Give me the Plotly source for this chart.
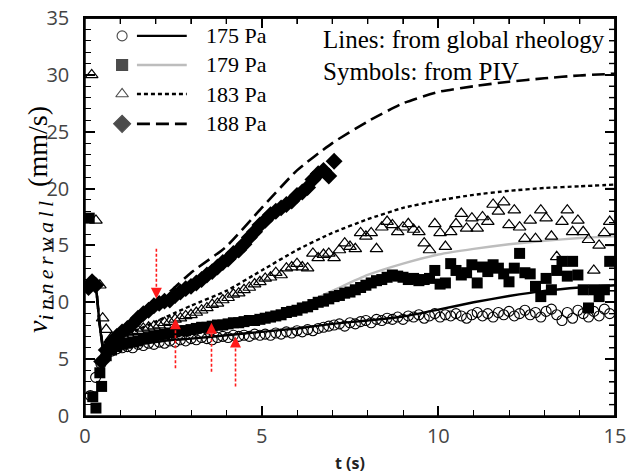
import numpy as np
import plotly.graph_objects as go

# ---------------- data ----------------
# model curves (global rheology)
T_LINE = [0, 0.1, 0.22, 0.3, 0.4, 0.5, 0.57, 0.7, 1, 1.5, 2, 2.5, 3, 4, 5, 6, 7, 8, 9, 10, 11, 12, 13, 14, 15]
L175 = [11.0, 11.8, 12.3, 11.6, 8.5, 6.0, 5.0, 5.7, 6.0, 6.3, 6.5, 6.7, 6.8, 7.1, 7.4, 7.7, 8.1, 8.4, 8.75, 9.35, 10.0, 10.55, 11.0, 11.3, 11.5]
L179 = [11.0, 11.8, 12.3, 11.6, 8.5, 6.0, 5.0, 5.4, 5.9, 6.4, 6.9, 7.2, 7.4, 7.9, 8.7, 9.6, 11.0, 12.4, 13.4, 14.2, 14.7, 15.1, 15.4, 15.65, 15.8]
L183 = [11.0, 11.8, 12.3, 11.6, 8.5, 6.2, 5.2, 6.0, 7.0, 7.6, 8.3, 9.0, 9.7, 11.0, 12.8, 14.6, 16.1, 17.3, 18.3, 18.95, 19.45, 19.8, 20.05, 20.2, 20.35]
L188 = [11.0, 11.8, 12.3, 11.6, 8.5, 6.2, 5.3, 6.2, 7.3, 8.6, 9.9, 11.2, 12.6, 14.9, 18.3, 21.6, 24.0, 25.9, 27.5, 28.5, 29.0, 29.4, 29.7, 29.95, 30.1]

# PIV symbols: a few irregular early frames, then frames every 0.15 s
DT = 0.15
C175_T0 = 0.15
C175 = [1.8, 3.4, 4.6, 5.4, 5.7, 5.9, 6.0, 6.1, 6.0, 6.3, 6.2, 6.4, 6.3, 6.5, 6.4, 6.6, 6.5, 6.7, 6.6, 6.8,
        6.7, 6.9, 6.8, 6.7, 6.9, 7.0, 6.9, 7.1, 7.0, 7.1, 7.0, 7.2, 7.1, 7.2, 7.1, 7.3, 7.2, 7.4, 7.3, 7.5,
        7.4, 7.6, 7.5, 7.7, 7.8, 7.9, 8.0, 8.1, 7.9, 8.2, 8.1, 8.3, 8.4, 8.2, 8.5, 8.4, 8.6, 8.5, 8.7, 8.5,
        8.8, 8.7, 8.9, 8.6, 8.8, 9.0, 8.7, 8.9, 8.8, 9.0, 8.8, 8.6, 8.9, 9.1, 8.8, 9.0, 8.7, 9.1, 8.9, 9.2,
        8.8, 9.0, 9.3, 8.9, 9.1, 8.7, 9.2, 9.4, 8.9, 8.4, 9.1, 8.6, 9.3, 9.0, 8.7, 9.2, 8.8, 9.4, 9.0]

S179_TE = [0.12, 0.22, 0.31, 0.42, 0.47]
S179_VE = [17.4, 1.7, 0.7, 3.8, 2.6]
S179_T0 = 0.6
S179 = [5.3, 5.8, 6.1, 6.3, 6.4, 6.5, 6.6, 6.8, 6.9, 7.0, 7.1, 7.2, 7.3, 7.4, 7.5, 7.5, 7.6, 7.7, 7.8, 7.8,
        7.9, 8.0, 8.0, 8.1, 8.2, 8.2, 8.3, 8.4, 8.4, 8.5, 8.6, 8.7, 8.8, 8.9, 9.1, 9.2, 9.3, 9.5, 9.6, 9.8,
        10.0, 10.1, 10.3, 10.5, 10.6, 10.8, 10.9, 11.1, 11.3, 11.5, 11.7, 11.9, 12.0, 12.2, 12.4, 12.3, 12.2, 12.0, 12.1, 11.9,
        12.0, 12.1, 12.8, 11.6, 11.7, 13.4, 12.8, 12.4, 12.6, 13.3, 11.7, 13.1, 12.7, 13.3, 13.0, 12.5, 11.8, 13.0, 14.3, 12.6,
        12.5, 11.4, 10.5, 12.1, 11.1, 12.8, 13.6, 12.3, 13.6, 12.4, 11.1, 9.5, 11.1, 10.5, 11.1, 13.6]

T183_TE = [0.19, 0.31, 0.42, 0.50, 0.60]
T183_VE = [30.0, 17.2, 11.5, 8.6, 7.6]
T183_T0 = 0.75
T183 = [6.9, 7.0, 7.2, 7.3, 7.4, 7.5, 7.7, 7.8, 7.9, 8.0, 8.2, 8.3, 8.5, 8.6, 8.8, 8.9, 9.1, 9.3, 9.5, 9.8,
        9.9, 10.2, 10.4, 10.7, 10.8, 11.1, 11.3, 11.6, 11.8, 12.1, 12.2, 12.6, 12.4, 13.0, 13.1, 13.4, 13.1, 13.0, 14.3, 13.9,
        14.2, 14.3, 13.9, 14.6, 15.2, 14.9, 14.7, 16.1, 15.8, 16.1, 14.7, 16.6, 17.1, 16.8, 16.2, 16.6, 16.9, 16.4, 16.2, 15.2,
        14.6, 16.9, 16.1, 14.9, 16.2, 16.9, 17.8, 16.5, 17.4, 16.5, 17.5, 17.1, 18.6, 18.0, 18.8, 16.8, 18.1, 16.6, 15.6, 17.2,
        15.6, 18.1, 17.4, 15.8, 14.0, 17.1, 18.1, 16.2, 17.2, 16.2, 15.5, 12.8, 15.0, 16.1, 17.1]

D188_TE = [0.1, 0.2, 0.3, 0.47]
D188_VE = [11.3, 11.8, 11.5, 4.8]
D188_T0 = 0.6
D188 = [5.8, 6.5, 7.0, 7.4, 7.7, 8.1, 8.6, 9.0, 9.3, 9.7, 9.9, 10.1, 10.2, 10.6, 10.9, 11.2, 11.4, 11.7, 12.0, 12.4,
        12.7, 13.1, 13.5, 13.8, 14.3, 14.6, 15.1, 15.7, 16.2, 16.8, 17.2, 17.7, 18.0, 18.3, 18.6, 18.9, 19.4, 19.7, 20.1, 20.8,
        21.3, 21.6, 21.1, 22.4]

LABELS = ["175 Pa", "179 Pa", "183 Pa", "188 Pa"]

# red dashed arrows: (t, start value, tip value)
ARROWS = [(2.02, 14.7, 10.3), (2.56, 4.2, 8.6), (3.58, 3.9, 8.2), (4.26, 2.6, 7.0)]

NOTE1 = "Lines: from global rheology"
NOTE2 = "Symbols: from PIV"

X_RANGE = [0, 15]
Y_RANGE = [0, 35]


def grid(t0, vals):
    return [round(t0 + DT * i, 3) for i in range(len(vals))]


# ---------------- geometry ----------------
W, H = 630, 474
M = dict(l=85, r=15, t=18, b=58)
PX_X = (W - M["l"] - M["r"]) / (X_RANGE[1] - X_RANGE[0])   # px per second
PX_Y = (H - M["t"] - M["b"]) / (Y_RANGE[1] - Y_RANGE[0])   # px per mm/s
MAJ_LEN, MIN_LEN = 10, 6

# ---------------- styles ----------------
LINE_STYLES = [
    dict(color="black", width=2.4, dash="solid"),
    dict(color="#bdbdbd", width=2.4, dash="solid"),
    dict(color="black", width=2.4, dash="4px,3px"),
    dict(color="black", width=2.6, dash="13px,6px"),
]
MARKERS = [
    dict(symbol="circle-open", size=10, color="black", line=dict(width=1.1, color="black")),
    dict(symbol="square", size=11, color="black"),
    dict(symbol="triangle-up-open", size=11, color="black", line=dict(width=1.2, color="black")),
    dict(symbol="diamond", size=13, color="black"),
]

fig = go.Figure()

line_vals = [L179, L183, L188, L175]
line_idx = [1, 2, 3, 0]
for vals, k in zip(line_vals, line_idx):
    fig.add_trace(go.Scatter(x=T_LINE, y=vals, mode="lines", line=dict(**LINE_STYLES[k], shape="spline", smoothing=0.5),
                             hoverinfo="skip", showlegend=False))

sym_series = [
    ([], [], C175_T0, C175),
    (S179_TE, S179_VE, S179_T0, S179),
    (T183_TE, T183_VE, T183_T0, T183),
    (D188_TE, D188_VE, D188_T0, D188),
]
for k, (te, ve, t0, vals) in enumerate(sym_series):
    fig.add_trace(go.Scatter(x=list(te) + grid(t0, vals), y=list(ve) + list(vals), mode="markers",
                             marker=MARKERS[k], showlegend=False, hoverinfo="skip"))

# red arrow heads (tips of the dashed arrows)
RED = "#ff1a1a"
fig.add_trace(go.Scatter(
    x=[a[0] for a in ARROWS],
    y=[a[2] for a in ARROWS],
    mode="markers",
    marker=dict(symbol=["arrow-up" if a[2] > a[1] else "arrow-down" for a in ARROWS],
                size=11, color=RED, line=dict(width=0)),
    showlegend=False, hoverinfo="skip"))

# top / right frame with mirrored inside ticks (drawn from the axis tick grid)
fx, fy = [X_RANGE[0], X_RANGE[1], X_RANGE[1]], [Y_RANGE[1], Y_RANGE[1], Y_RANGE[0]]
for t in range(X_RANGE[0] + 1, X_RANGE[1]):
    ln = (MAJ_LEN if t % 5 == 0 else MIN_LEN) / PX_Y
    fx += [None, t, t]
    fy += [None, Y_RANGE[1], Y_RANGE[1] - ln]
for v in range(Y_RANGE[0] + 1, Y_RANGE[1]):
    ln = (MAJ_LEN if v % 5 == 0 else MIN_LEN) / PX_X
    fx += [None, X_RANGE[1], X_RANGE[1] - ln]
    fy += [None, v, v]
fig.add_trace(go.Scatter(x=fx, y=fy, mode="lines", line=dict(color="black", width=1.4), cliponaxis=False,
                         connectgaps=False, showlegend=False, hoverinfo="skip"))

# ---------------- manual legend (positions as plot-area fractions) ----------------
LEG_ROWS = [0.955, 0.882, 0.809, 0.734]
LEG_MARK_X = 0.070
LEG_LINE_X = (0.098, 0.192)
LEG_TEXT_X = 0.224
SERIF = "Liberation Serif"
fig.add_trace(go.Scatter(x=[LEG_MARK_X * X_RANGE[1]] * 4, y=[ry * Y_RANGE[1] for ry in LEG_ROWS], mode="markers",
                         marker=dict(symbol=[m["symbol"] for m in MARKERS], size=[m["size"] for m in MARKERS],
                                     color="black", line=dict(width=1.15, color="black")),
                         showlegend=False, hoverinfo="skip"))
for k, ry in enumerate(LEG_ROWS):
    st = LINE_STYLES[k]
    fig.add_shape(type="line", xref="x domain", yref="y domain", x0=LEG_LINE_X[0], x1=LEG_LINE_X[1], y0=ry, y1=ry,
                  line=dict(color=st["color"], width=st["width"], dash=st["dash"]))
    fig.add_annotation(xref="x domain", yref="y domain", x=LEG_TEXT_X, y=ry, text=LABELS[k], showarrow=False,
                       xanchor="left", yanchor="middle", font=dict(family=SERIF, size=22, color="black"))

fig.add_annotation(xref="x domain", yref="y domain", x=0.445, y=0.947, text=NOTE1, showarrow=False,
                   xanchor="left", yanchor="middle", font=dict(family=SERIF, size=25, color="black"))
fig.add_annotation(xref="x domain", yref="y domain", x=0.445, y=0.866, text=NOTE2, showarrow=False,
                   xanchor="left", yanchor="middle", font=dict(family=SERIF, size=25, color="black"))

# plot frame (paper refs, not clipped)
fig.add_shape(type="rect", xref="paper", yref="paper", x0=0, x1=1, y0=0, y1=1,
              line=dict(color="black", width=1.5), fillcolor="rgba(0,0,0,0)", layer="above")

# dashed arrow shafts
GAP = 0.5
for (tx, ys, yt) in ARROWS:
    sgn = 1 if yt > ys else -1
    fig.add_shape(type="line", x0=tx, x1=tx, y0=ys, y1=yt - sgn * GAP, xref="x", yref="y",
                  line=dict(color=RED, width=1.6, dash="3px,2px"))

# ---------------- axes ----------------
TICKFONT = dict(family="Open Sans", size=20, color="#444444")
MINOR = dict(ticks="inside", dtick=1, ticklen=MIN_LEN, tickcolor="black", tickwidth=1.2)
common = dict(showline=True, linecolor="black", linewidth=1.5, ticks="inside", automargin=False, mirror="allticks",
              tickcolor="black", tickwidth=1.5, ticklen=MAJ_LEN, showgrid=False, zeroline=False, tickfont=TICKFONT,
              dtick=5, tick0=0, minor=MINOR, fixedrange=True)
fig.update_layout(
    template="none",
    width=W, height=H,
    margin=dict(**M, autoexpand=False),
    paper_bgcolor="white", plot_bgcolor="white",
    showlegend=False,
    xaxis=dict(range=X_RANGE, ticklabeloverflow="allow", ticklabelstandoff=1, **common),
    yaxis=dict(range=Y_RANGE, ticklabeloverflow="allow", ticksuffix="\u2002", **common),
)

fig.add_annotation(xref="paper", yref="paper", x=0.5, y=-0.118, text="<b>t (s)</b>", showarrow=False,
                   xanchor="center", yanchor="middle", font=dict(family="Open Sans", size=16, color="#222222"))
SUB = "\u2009".join("innerwall")
fig.add_annotation(xref="paper", yref="paper", x=-0.085, y=0.495, textangle=-90,
                   text="<i>v</i><sub><span style='font-size:22px'><i>" + SUB + "</i></span></sub>  (mm/s)",
                   showarrow=False, xanchor="center", yanchor="middle",
                   font=dict(family=SERIF, size=28, color="black"))

PIN = ("document.documentElement.style.margin='0';document.documentElement.style.overflow='hidden';"
       "document.body.style.margin='0';document.body.style.overflow='hidden';"
       "var g=document.getElementById('{plot_id}');g.style.position='absolute';g.style.left='0px';g.style.top='0px';")
fig.write_html("out.html", config={"displayModeBar": False}, post_script=PIN)
